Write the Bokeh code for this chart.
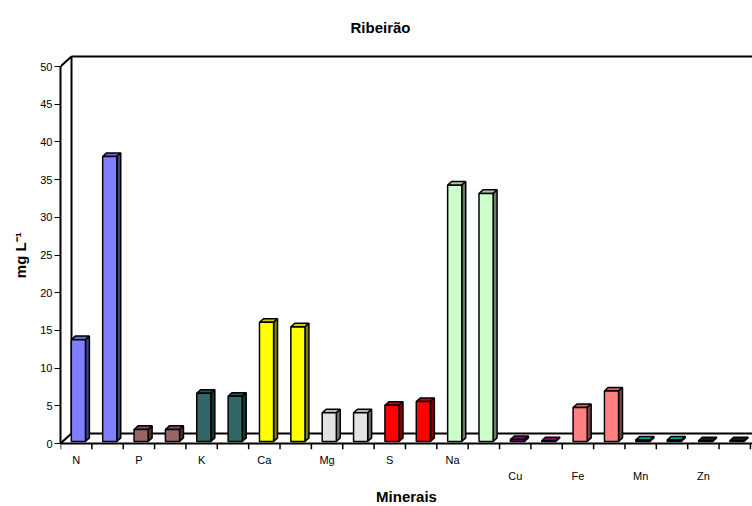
from bokeh.plotting import figure
from bokeh.models import ColumnDataSource, FixedTicker, LinearAxis, Range1d
from bokeh.embed import file_html
from bokeh.resources import INLINE

# Mineral concentrations (mg/L), two samples per mineral
categories = ["N", "P", "K", "Ca", "Mg", "S", "Na", "Cu", "Fe", "Mn", "Zn"]
first_sample = [13.5, 1.6, 6.4, 15.8, 3.8, 4.8, 34.0, 0.25, 4.5, 0.2, 0.1]
second_sample = [37.8, 1.6, 6.0, 15.2, 3.8, 5.3, 32.9, 0.1, 6.7, 0.2, 0.1]
y_ticks = [0, 5, 10, 15, 20, 25, 30, 35, 40, 45, 50]
y_max = 50

# Front-face colour of each mineral's bars
face_colors = {
    "N": "#8080FF", "P": "#996666", "K": "#336666", "Ca": "#FFFF00",
    "Mg": "#E3E3E3", "S": "#FF0000", "Na": "#CCFFCC", "Cu": "#A000A0",
    "Fe": "#FF8080", "Mn": "#00CCCC", "Zn": "#003300",
}
second_row_labels = {"Cu", "Fe", "Mn", "Zn"}

FONT = "Liberation Sans"
PX_X = 31.36          # pixels per slot
PX_Y = 7.54           # pixels per mg/L
FRAME_W = 692
TOP_PX, BELOW_PX = 395, 6   # frame height above / below the zero line
TICK_LEN = BELOW_PX / PX_Y

# 3D depth of the chart box, in data units
DX, DY = 11 / PX_X, 10 / PX_Y
F0, F1 = 0.2, 0.56    # front/back depth of the bars
BAR_W = 0.45


def shade(hex_color, k):
    h = hex_color.lstrip("#")
    r, g, b = (int(h[i:i + 2], 16) for i in (0, 2, 4))
    return "#%02X%02X%02X" % (int(r * k), int(g * k), int(b * k))


p = figure(
    frame_width=FRAME_W, frame_height=TOP_PX + BELOW_PX,
    x_range=Range1d(0, FRAME_W / PX_X),
    y_range=Range1d(-TICK_LEN, TOP_PX / PX_Y),
    output_backend="svg", toolbar_location=None,
    min_border_left=60, min_border_right=0, min_border_top=48, min_border_bottom=57,
)
p.xgrid.visible = False
p.ygrid.visible = False
p.outline_line_color = None
p.background_fill_color = "white"
p.border_fill_color = "white"

p.title.text = "Ribeirão"
p.title.text_font = FONT
p.title.text_font_size = "15px"
p.title.text_font_style = "bold"
p.title.text_color = "black"
p.title.align = "left"
p.title.offset = 290
p.title.standoff = 25

n_slots = 2 * len(categories)
x_end = FRAME_W / PX_X

# box walls: diagonals, back wall edge, top and floor back edges
wall_xs = [[0, DX], [0, DX], [DX, DX], [DX, x_end], [DX, x_end]]
wall_ys = [[0, DY], [y_max, y_max + DY], [DY, y_max + DY],
           [y_max + DY, y_max + DY], [DY, DY]]
p.multi_line(wall_xs, wall_ys, line_color="black", line_width=2)

# category axis line and slot boundary ticks
p.segment(x0=0, y0=0, x1=x_end, y1=0, line_color="black", line_width=2)
slot_edges = list(range(n_slots + 1))
p.segment(x0=slot_edges, y0=[0] * len(slot_edges), x1=slot_edges,
          y1=[-TICK_LEN] * len(slot_edges), line_color="black", line_width=1.5)

# 3D bars: top, side and front faces
xs, ys, fills = [], [], []
for k, cat in enumerate(categories):
    base = face_colors[cat]
    for j, v in enumerate((first_sample[k], second_sample[k])):
        slot = 2 * k + j
        x0 = slot + 0.5 - BAR_W / 2 + F0 * DX
        x1 = x0 + BAR_W
        y0 = F0 * DY
        y1 = v + F0 * DY
        bx, by = (F1 - F0) * DX, (F1 - F0) * DY
        xs.append([x0, x1, x1 + bx, x0 + bx])
        ys.append([y1, y1, y1 + by, y1 + by])
        fills.append(shade(base, 0.8))
        xs.append([x1, x1 + bx, x1 + bx, x1])
        ys.append([y0, y0 + by, y1 + by, y1])
        fills.append(shade(base, 0.5))
        xs.append([x0, x1, x1, x0])
        ys.append([y0, y0, y1, y1])
        fills.append(base)

bars = ColumnDataSource(dict(xs=xs, ys=ys, fill=fills))
p.patches("xs", "ys", source=bars, fill_color="fill", line_color="black", line_width=1.5)

# value axis (label padded so it sits centred on the 0-50 span)
yax = p.yaxis[0]
yax.ticker = FixedTicker(ticks=y_ticks)
yax.bounds = (0, y_max)
yax.axis_line_width = 2
yax.major_tick_out = 6
yax.major_tick_in = 0
yax.minor_tick_line_color = None
yax.major_label_standoff = 2
yax.major_label_text_font = FONT
yax.major_label_text_font_size = "11px"
yax.major_label_text_color = "black"
yax.axis_label = "mg L⁻¹\u00a0\u00a0\u00a0"
yax.axis_label_text_font = FONT
yax.axis_label_text_font_size = "15px"
yax.axis_label_text_font_style = "bold"
yax.axis_label_text_color = "black"
yax.axis_label_standoff = 8


def style_label_axis(ax, names, standoff):
    pos = [2 * categories.index(c) + 0.5 for c in names]
    ax.ticker = FixedTicker(ticks=pos)
    ax.major_label_overrides = {q: c for q, c in zip(pos, names)}
    ax.axis_line_color = None
    ax.major_tick_line_color = None
    ax.minor_tick_line_color = None
    ax.major_tick_out = 0
    ax.major_tick_in = 0
    ax.major_label_standoff = standoff
    ax.major_label_text_font = FONT
    ax.major_label_text_font_size = "11px"
    ax.major_label_text_color = "black"
    return ax


style_label_axis(p.xaxis[0], [c for c in categories if c not in second_row_labels], 4)
row2 = LinearAxis()
p.add_layout(row2, "below")
style_label_axis(row2, [c for c in categories if c in second_row_labels], 1)
row2.axis_label = "Minerais"
row2.axis_label_text_font = FONT
row2.axis_label_text_font_size = "15px"
row2.axis_label_text_font_style = "bold"
row2.axis_label_text_color = "black"
row2.axis_label_standoff = 3

open("out.html", "w").write(file_html(p, INLINE))
